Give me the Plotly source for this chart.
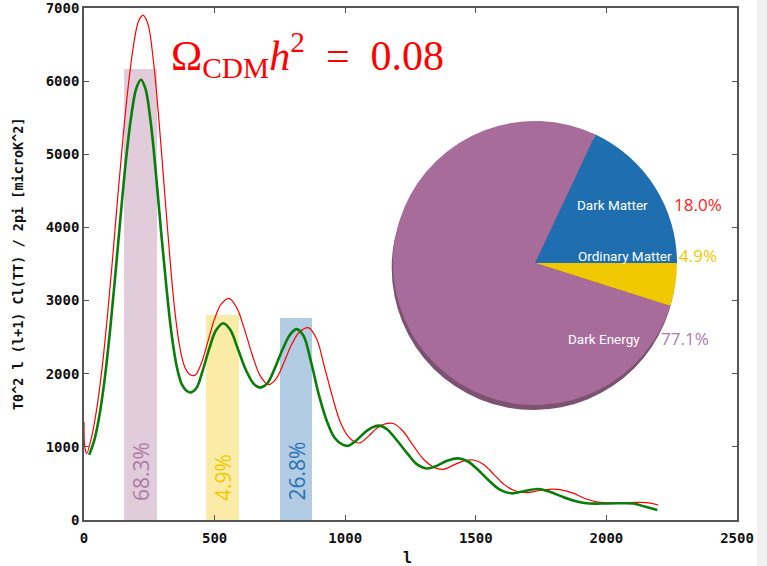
import plotly.graph_objects as go

# ---- data ----
red_l = [0, 3, 10, 30, 50, 70, 90, 110, 130, 150, 170, 190, 210, 227, 245, 265, 285, 305, 325, 345, 365, 385,
         405, 425, 450, 475, 500, 525, 555, 585, 615, 645, 675, 706, 735, 765, 795, 825, 859, 890, 920, 950,
         980, 1010, 1035, 1057, 1090, 1120, 1150, 1184, 1220, 1260, 1300, 1340, 1376, 1420, 1460, 1491, 1530,
         1570, 1610, 1650, 1695, 1740, 1780, 1822, 1870, 1920, 1975, 2050, 2154, 2199]
red_v = [1340, 1000, 910, 1150, 1550, 2100, 2800, 3600, 4450, 5250, 5950, 6500, 6830, 6900, 6780, 6300, 5550,
         4650, 3750, 2950, 2400, 2100, 1990, 1980, 2150, 2450, 2750, 2950, 3030, 2900, 2600, 2250, 1970, 1850,
         1930, 2150, 2400, 2570, 2630, 2480, 2100, 1700, 1350, 1150, 1070, 1055, 1150, 1250, 1310, 1320, 1220,
         1020, 830, 720, 693, 760, 815, 820, 760, 620, 480, 400, 373, 400, 420, 415, 370, 290, 240, 237, 237, 205]

green_l = [20, 40, 60, 80, 100, 120, 140, 160, 180, 200, 218, 235, 255, 275, 295, 315, 335, 355, 375, 395, 410,
           430, 455, 480, 505, 533, 560, 590, 620, 650, 674, 700, 730, 760, 790, 814, 840, 870, 900, 930, 960,
           990, 1012, 1040, 1070, 1100, 1131, 1160, 1200, 1240, 1275, 1312, 1350, 1390, 1433, 1470, 1510, 1550,
           1590, 1637, 1680, 1739, 1780, 1830, 1880, 1924, 1980, 2040, 2103, 2150, 2195]
green_v = [890, 1100, 1450, 1950, 2600, 3350, 4150, 4900, 5500, 5900, 6020, 5900, 5450, 4750, 3950, 3200, 2550,
           2100, 1850, 1760, 1745, 1800, 2050, 2350, 2590, 2690, 2600, 2330, 2050, 1860, 1810, 1860, 2070, 2330,
           2540, 2610, 2520, 2150, 1700, 1350, 1120, 1030, 1015, 1080, 1180, 1260, 1290, 1240, 1080, 900, 760,
           705, 740, 810, 843, 800, 680, 540, 420, 365, 390, 424, 390, 320, 260, 228, 225, 228, 225, 180, 137]

bar_centers = [216, 530, 812]
bar_heights = [6166, 2803, 2766]
bar_labels = ["68.3%", "4.9%", "26.8%"]

pie_labels = ["Ordinary Matter", "Dark Matter", "Dark Energy"]
pie_values = [4.9, 18.0, 77.1]
pie_pct = ["4.9%", "18.0%", "77.1%"]

x_ticks = [0, 500, 1000, 1500, 2000, 2500]
y_ticks = [0, 1000, 2000, 3000, 4000, 5000, 6000, 7000]

# ---- style ----
PURPLE = "#a86c9a"
BLUE = "#1f6eb0"
YELLOW = "#f0c800"
bar_fill = ["rgba(168,108,154,0.35)", "rgba(240,200,0,0.35)", "rgba(31,110,176,0.35)"]
bar_text_col = ["#ad7aa5", "#f0c800", "#2a72b5"]
pie_colors = [YELLOW, BLUE, PURPLE]
pct_colors = [YELLOW, "#ff2020", "#b07aa8"]
AX = "#555555"
TICKFONT = dict(family="DejaVu Sans Mono", size=14, color="#111111", weight="bold")

fig = go.Figure()

fig.add_trace(go.Bar(x=bar_centers, y=bar_heights, width=125, marker=dict(color=bar_fill, line=dict(width=0)),
                     showlegend=False, hoverinfo="skip"))

fig.add_trace(go.Scatter(x=red_l, y=red_v, mode="lines", line=dict(color="#ff0000", width=1.2, shape="spline"),
                         showlegend=False))
fig.add_trace(go.Scatter(x=green_l, y=green_v, mode="lines", line=dict(color="#0a7d0a", width=2.6, shape="spline"),
                         showlegend=False))

# pie shadow + pie
dom_x = [0.4732, 0.9081]
dom_y = [0.2246, 0.7793]
sh = 5 / 512
fig.add_trace(go.Pie(values=[1], marker=dict(colors=["#7b5272"], line=dict(width=0)), textinfo="none",
                     domain=dict(x=[dom_x[0] - 0.002, dom_x[1] - 0.002], y=[dom_y[0] - sh, dom_y[1] - sh]),
                     showlegend=False, hoverinfo="skip", sort=False))
fig.add_trace(go.Pie(labels=pie_labels, values=pie_values, marker=dict(colors=pie_colors, line=dict(width=0)),
                     textinfo="none", sort=False, direction="counterclockwise", rotation=90,
                     domain=dict(x=dom_x, y=dom_y), showlegend=False))

annotations = []
# bar labels
for c, t, col in zip(bar_centers, bar_labels, bar_text_col):
    annotations.append(dict(x=c, y=232, xref="x", yref="y", text=t, textangle=-90, showarrow=False,
                            xanchor="center", yanchor="bottom",
                            font=dict(family="Open Sans", size=21, color=col)))

# pie inner labels (data coords)
inner_pos = [(2071, 3610), (2025, 4307), (1991, 2475)]
for (x, y), t in zip(inner_pos, pie_labels):
    annotations.append(dict(x=x, y=y, xref="x", yref="y", text=t, showarrow=False,
                            font=dict(family="Roboto", size=13.5, color="white")))
pct_pos = [(2351, 3623), (2351, 4320), (2301, 2488)]
for (x, y), t, col in zip(pct_pos, pie_pct, pct_colors):
    annotations.append(dict(x=x, y=y, xref="x", yref="y", text=t, showarrow=False,
                            font=dict(family="Open Sans", size=17, color=col)))

# formula title
annotations.append(dict(x=325, y=6360, xref="x", yref="y", xanchor="left", yanchor="middle",
                        text="Ω<sub>CDM</sub><i>h</i><sup>2</sup>\u00a0\u00a0=\u00a0\u00a00.08", showarrow=False,
                        font=dict(family="Liberation Serif", size=42, color="#ff0000")))

# axis titles
annotations.append(dict(x=-0.101, y=0.5, xref="paper", yref="paper", textangle=-90, showarrow=False,
                        text="T0^2 l (l+1) Cl(TT) / 2pi [microK^2]", xanchor="center", yanchor="middle",
                        font=dict(family="DejaVu Sans Mono", size=13.5, color="#111111", weight="bold")))
annotations.append(dict(x=0.496, y=-0.074, xref="paper", yref="paper", showarrow=False, text="l",
                        xanchor="center", yanchor="middle",
                        font=dict(family="DejaVu Sans Mono", size=15, color="#111111", weight="bold")))

fig.update_layout(
    width=767, height=566,
    margin=dict(l=84, r=30, t=8, b=46, autoexpand=False),
    paper_bgcolor="white", plot_bgcolor="white",
    annotations=annotations,
    shapes=[dict(type="rect", xref="paper", yref="paper", x0=(757 - 84) / 653, x1=1.1,
                 y0=-1, y1=2, fillcolor="#f0f0f0", line=dict(width=0), layer="below")],
    bargap=0,
)
fig.update_xaxes(range=[0, 2500], tickvals=x_ticks, ticktext=[str(v) for v in x_ticks],
                 ticks="inside", ticklen=5, tickwidth=1.3, tickcolor=AX, automargin=False,
                 ticklabeloverflow="allow",
                 showline=True, linecolor=AX, linewidth=1.6, mirror="ticks",
                 showgrid=False, zeroline=False, tickfont=TICKFONT, ticklabelstandoff=4)
fig.update_yaxes(range=[0, 7000], tickvals=y_ticks, ticktext=[str(v) for v in y_ticks],
                 ticks="inside", ticklen=5, tickwidth=1.3, tickcolor=AX, automargin=False,
                 ticklabeloverflow="allow",
                 showline=True, linecolor=AX, linewidth=1.6, mirror="ticks",
                 showgrid=False, zeroline=False, tickfont=TICKFONT, ticklabelstandoff=0)

fig.write_html("out.html", config={"displayModeBar": False},
               post_script="document.body.style.margin='0';document.body.style.overflow='hidden';")
